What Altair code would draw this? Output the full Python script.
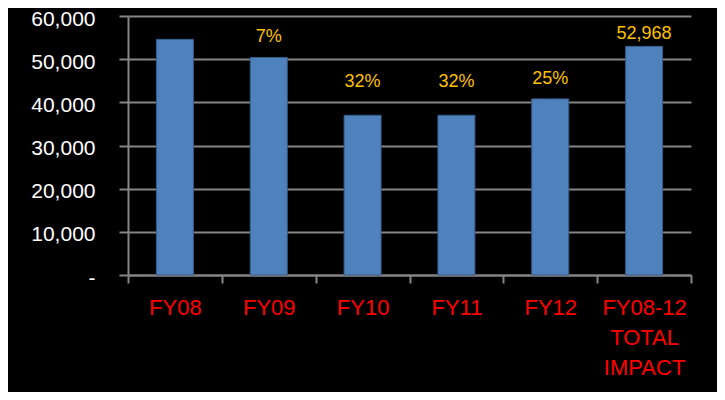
import altair as alt
import pandas as pd

categories = ["FY08", "FY09", "FY10", "FY11", "FY12", "FY08-12|TOTAL|IMPACT"]
values = [54600, 50400, 37000, 37000, 40800, 52968]
annotations = ["", "7%", "32%", "32%", "25%", "52,968"]
y_ticks = [0, 10000, 20000, 30000, 40000, 50000, 60000]

df = pd.DataFrame({"cat": categories, "value": values, "note": annotations})

FONT = "Liberation Sans, Arial, sans-serif"
GRID = "#858585"

x_enc = alt.X(
    "cat:N",
    sort=categories,
    scale=alt.Scale(paddingInner=0, paddingOuter=0),
    axis=alt.Axis(
        title=None,
        labelAngle=0,
        labelColor="#FF0000",
        labelFont=FONT,
        labelFontSize=22,
        labelLineHeight=30,
        labelPadding=14,
        labelBaseline="top",
        labelExpr="split(datum.label, '|')",
        tickBand="extent",
        tickSize=8,
        tickColor=GRID,
        tickWidth=2,
        domainColor=GRID,
        domainWidth=2,
        grid=False,
    ),
)

y_enc = alt.Y(
    "value:Q",
    scale=alt.Scale(domain=[0, 60000], nice=False),
    axis=alt.Axis(
        title=None,
        values=y_ticks,
        labelExpr="datum.value == 0 ? '-\u00a0\u00a0' : format(datum.value, ',')",
        labelColor="#FFFFFF",
        labelFont=FONT,
        labelFontSize=21,
        labelPadding=24,
        labelOffset=3,
        tickSize=9,
        tickColor=GRID,
        tickWidth=2,
        domainColor=GRID,
        domainWidth=2,
        gridColor=GRID,
        gridWidth=2,
        grid=True,
    ),
)

bars = alt.Chart(df).mark_bar(
    size=37, color="#4F81BD", stroke="#385D8A", strokeWidth=1
).encode(x=x_enc, y=y_enc)

def note_layer(names, dy):
    return (
        alt.Chart(df)
        .transform_filter(alt.FieldOneOfPredicate(field="cat", oneOf=names))
        .mark_text(
            baseline="alphabetic",
            dy=dy,
            font=FONT,
            fontSize=18,
            color="#FFC000",
        )
        .encode(
            x=alt.X("cat:N", sort=categories),
            y=alt.Y("value:Q"),
            text="note:N",
        )
    )

notes = (
    note_layer(["FY09", "FY12"], -15)
    + note_layer(["FY10", "FY11"], -28)
    + note_layer(["FY08-12|TOTAL|IMPACT"], -7)
)

chart = (
    alt.layer(bars, notes)
    .properties(
        width=563,
        height=259,
        background="#000000",
        autosize=alt.AutoSizeParams(type="none"),
        padding={"left": 120, "top": 8, "right": 26, "bottom": 117},
    )
    .configure_view(stroke=None)
)

chart.save("out.html", embed_options={"renderer": "svg", "actions": False})
